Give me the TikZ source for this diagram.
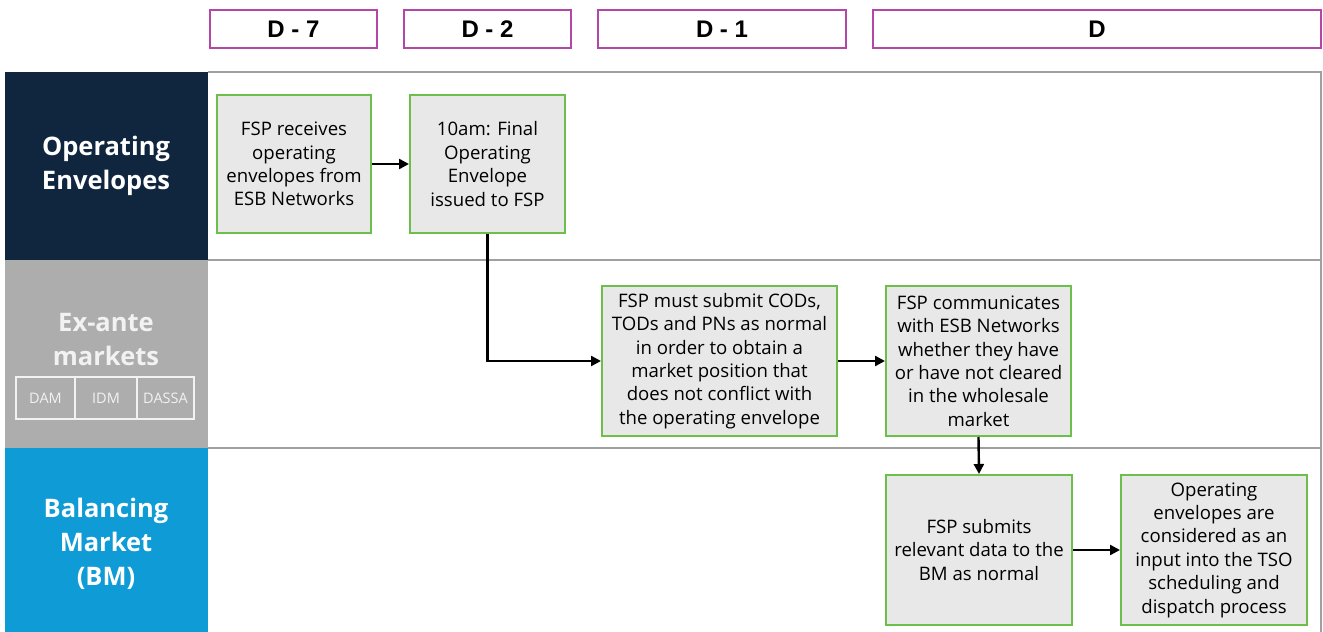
\documentclass[tikz,border=0pt]{standalone}
\usepackage{fontspec}
\setmainfont{Open Sans}
\newfontfamily\hdrfont{Liberation Sans}
\usetikzlibrary{arrows.meta}
\definecolor{navy}{HTML}{10263F}
\definecolor{midgray}{HTML}{ADADAD}
\definecolor{bmblue}{HTML}{0E9BD6}
\definecolor{hdrpurple}{HTML}{B347A8}
\definecolor{boxgreen}{HTML}{6CBF4B}
\definecolor{boxfill}{HTML}{E8E8E8}
\definecolor{bandline}{HTML}{A0A0A0}
\definecolor{exante}{HTML}{F2F2F2}
\tikzset{
  hdr/.style={draw=hdrpurple, line width=1.6pt, minimum height=38pt, inner sep=0pt,
     font=\hdrfont\fontsize{24}{26}\selectfont\bfseries},
  stepbox/.style={draw=boxgreen, fill=boxfill, line width=2pt, align=center,
     inner sep=0pt, font=\fontsize{18.6}{23.4}\selectfont},
  flow/.style={line width=2.4pt, -{Triangle[length=10pt,width=10pt]}},
  lanelbl/.style={align=center, font=\fontsize{25.5}{34}\selectfont\bfseries},
  mkt/.style={draw=exante, line width=1.2pt, minimum height=42pt, inner sep=0pt,
     text=exante, font=\fontsize{14.5}{16}\selectfont},
}
\begin{document}
\begin{tikzpicture}[x=1pt,y=-1pt]
\useasboundingbox (0,0) rectangle (1323,632);
\fill[white] (0,0) rectangle (1323,632);
% header boxes
\node[hdr, minimum width=167pt] (d7) at (293.5,29) {D - 7};
\node[hdr, minimum width=167pt] (d2) at (487.5,29) {D - 2};
\node[hdr, minimum width=248pt] (d1) at (722,29) {D - 1};
\node[hdr, minimum width=448pt] (d0) at (1097,29) {D};
% lanes
\draw[bandline, line width=1.3pt] (208,72) -- (1321,72) -- (1321,632);
\draw[bandline, line width=1.3pt] (208,260) -- (1321,260);
\draw[bandline, line width=1.3pt] (208,448) -- (1321,448);
\fill[navy] (5,72) rectangle (208,260);
\fill[midgray] (5,260) rectangle (208,448);
\fill[bmblue] (5,448) rectangle (208,632);
\node[lanelbl, text=white] (l1) at (106,166) {Operating\\Envelopes};
\node[lanelbl, text=exante] (l2) at (106,340) {Ex-ante\\markets};
\node[lanelbl, text=white] (l3) at (106,544) {Balancing\\Market\\(BM)};
\node[mkt, minimum width=59pt] (dam) at (45.5,398) {DAM};
\node[mkt, minimum width=62pt] (idm) at (106,398) {IDM};
\node[mkt, minimum width=57pt] (dassa) at (165.5,398) {DASSA};
% steps
\node[stepbox, minimum width=154pt, minimum height=138pt] (b1) at (294,164)
  {FSP receives\\operating\\envelopes from\\ESB Networks};
\node[stepbox, minimum width=155pt, minimum height=138pt] (b2) at (487.5,164)
  {10am: Final\\Operating\\Envelope\\issued to FSP};
\node[stepbox, minimum width=235pt, minimum height=150pt] (b3) at (719.5,361)
  {FSP must submit CODs,\\TODs and PNs as normal\\in order to obtain a\\market position that\\does not conflict with\\the operating envelope};
\node[stepbox, minimum width=185pt, minimum height=150pt] (b4) at (978.5,361)
  {FSP communicates\\with ESB Networks\\whether they have\\or have not cleared\\in the wholesale\\market};
\node[stepbox, minimum width=186pt, minimum height=150pt] (b5) at (979,550)
  {FSP submits\\relevant data to the\\BM as normal};
\node[stepbox, minimum width=186pt, minimum height=150pt] (b6) at (1214,550)
  {Operating\\envelopes are\\considered as an\\input into the TSO\\scheduling and\\dispatch process};
% connectors
\draw[flow] (b1.east) -- (b2.west);
\draw[flow] (b2.south) |- (b3.west);
\draw[flow] (b3.east) -- (b4.west);
\draw[flow] (b4.south) -- (b5.north);
\draw[flow] (b5.east) -- (b6.west);
\end{tikzpicture}
\end{document}
